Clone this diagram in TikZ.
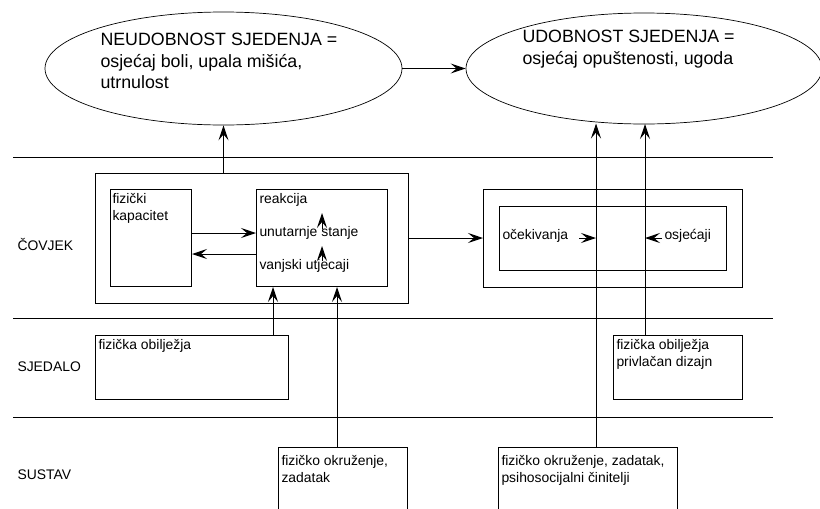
\documentclass[tikz,border=0pt]{standalone}
\usepackage{fontspec}
\setmainfont{Liberation Sans}
\usetikzlibrary{arrows.meta,shapes.geometric}
\begin{document}
\begin{tikzpicture}[x=1pt,y=-1pt,
  line width=1pt,
  arr/.style={-{Stealth[length=15pt,width=10pt,inset=6pt]}},
  small/.style={font=\fontsize{13.9}{16.5}\selectfont,inner sep=0pt,align=left},
  big/.style={font=\fontsize{17.8}{21.5}\selectfont,inner sep=0pt,align=left},
  boxx/.style={draw,inner sep=0pt,anchor=north west},
  ell/.style={draw,ellipse,line width=0.7pt,inner sep=0pt}]
\useasboundingbox (0,0) rectangle (820,509);
% ellipses
\node[ell,minimum width=357pt,minimum height=113pt] (e1) at (223.5,68.5) {};
\node[ell,minimum width=356pt,minimum height=111pt] (e2) at (644,68.5) {};
\node[big,anchor=north west] (t1) at (100,33) {NEUDOBNOST SJEDENJA =\\osjećaj boli, upala mišića,\\utrnulost};
\node[big,anchor=north west] (t2) at (522,30) {UDOBNOST SJEDENJA =\\osjećaj opuštenosti, ugoda};
\draw[arr] (e1.east) -- (e2.west);
% horizontal separators
\coordinate (l1a) at (13,157); \coordinate (l1b) at (773,157);
\coordinate (l2a) at (13,318); \coordinate (l2b) at (773,318);
\coordinate (l3a) at (13,417); \coordinate (l3b) at (773,417);
\draw (l1a) -- (l1b);
\draw (l2a) -- (l2b);
\draw (l3a) -- (l3b);
% row labels
\node[small,anchor=west] (covjek) at (17,244) {ČOVJEK};
\node[small,anchor=west] (sjedalo) at (17,367) {SJEDALO};
\node[small,anchor=west] (sustav) at (17,475) {SUSTAV};
% covjek outer box
\node[boxx,minimum width=313pt,minimum height=130pt] (cov) at (95,173) {};
\node[boxx,minimum width=81pt,minimum height=97pt] (kap) at (110,189) {};
\node[small,anchor=north west] (kapt) at (112,193) {fizički\\kapacitet};
\node[boxx,minimum width=131pt,minimum height=97pt] (rea) at (256,189) {};
\node[small,anchor=west] (reat) at (259,200) {reakcija};
\node[small,anchor=west] (unut) at (259,233) {unutarnje stanje};
\node[small,anchor=west] (vanj) at (259,266) {vanjski utjecaji};
\coordinate (ua) at (322,229); \coordinate (ub) at (322,213);
\coordinate (va) at (322,261); \coordinate (vb) at (322,246);
\draw[arr] (ua) -- (ub);
\draw[arr] (va) -- (vb);
\draw[arr] (kap.east |- 0,233) -- (rea.west |- 0,233);
\draw[arr] (rea.west |- 0,254) -- (kap.east |- 0,254);
\draw[arr] (cov.north -| e1.south) -- (e1.south);
% right boxes
\node[boxx,minimum width=259pt,minimum height=98pt] (ro) at (483,189) {};
\node[boxx,minimum width=227pt,minimum height=64pt] (ri) at (499,206) {};
\node[small,anchor=west] (ocek) at (502,236) {očekivanja};
\node[small,anchor=west] (osj) at (664,236) {osjećaji};
\draw[arr] (cov.east |- 0,238) -- (ro.west |- 0,238);
% sjedalo boxes
\node[boxx,minimum width=193pt,minimum height=64pt] (sj1) at (95,335) {};
\node[small,anchor=north west] (sj1t) at (98,339) {fizička obilježja};
\node[boxx,minimum width=129pt,minimum height=64pt] (sj2) at (613,335) {};
\node[small,anchor=north west] (sj2t) at (616,339) {fizička obilježja\\privlačan dizajn};
% sustav boxes (open at bottom)
\coordinate (s1a) at (278,515); \coordinate (s1b) at (278,447);
\coordinate (s1c) at (407,447); \coordinate (s1d) at (407,515);
\draw (s1a) -- (s1b) -- (s1c) -- (s1d);
\node[small,anchor=north west] (s1t) at (281,455) {fizičko okruženje,\\zadatak};
\coordinate (s2a) at (498,515); \coordinate (s2b) at (498,447);
\coordinate (s2c) at (677,447); \coordinate (s2d) at (677,515);
\draw (s2a) -- (s2b) -- (s2c) -- (s2d);
\node[small,anchor=north west] (s2t) at (501,455) {fizičko okruženje, zadatak,\\psihosocijalni činitelji};
% arrows into reakcija
\draw[arr] (sj1.north -| 273,0) -- (rea.south -| 273,0);
\draw[arr] (s1b -| 337,0) -- (rea.south -| 337,0);
% vertical arrows to e2
\coordinate (v1) at (596,447);
\coordinate (v2) at (645,335);
\coordinate (e2a) at (596,123.5);
\coordinate (e2b) at (645,124);
\draw[arr] (v1) -- (e2a);
\draw[arr] (v2) -- (e2b);
\coordinate (oa) at (579,238); \coordinate (ob) at (596,238);
\coordinate (sa) at (662,238); \coordinate (sb) at (645,238);
\draw[arr] (oa) -- (ob);
\draw[arr] (sa) -- (sb);
\end{tikzpicture}
\end{document}
